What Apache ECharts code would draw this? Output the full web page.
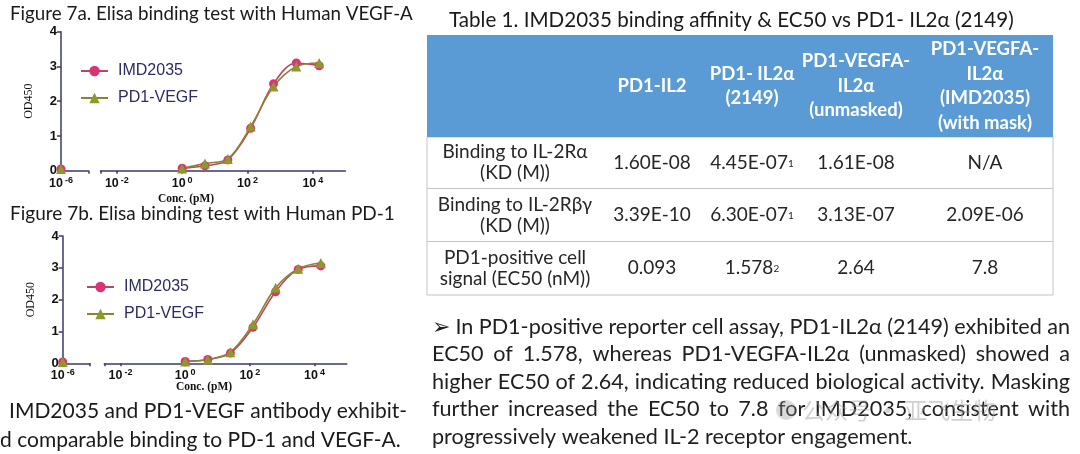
<!DOCTYPE html>
<html>
<head>
<meta charset="utf-8">
<script src="https://cdn.jsdelivr.net/npm/echarts@6/dist/echarts.min.js"></script>
<style>
  html, body { margin: 0; padding: 0; background: #fff; }
  #main { width: 1080px; height: 454px; }
</style>
</head>
<body>
<div id="main"></div>
<script>
// ELISA dilution series (pM), 5-fold steps
const concPM = [1, 5, 25, 125, 625, 3125, 15625];
// zero-concentration wells are plotted at 10^-6 on the broken axis
const zeroConcLog = -6;

// Figure 7a - VEGF-A
const vegfIMD2035 = [0.07, 0.14, 0.31, 1.22, 2.50, 3.10, 3.02];
const vegfPD1VEGF = [0.06, 0.21, 0.34, 1.27, 2.42, 3.00, 3.10];
const vegfBlank = [0.05, 0.05];

// Figure 7b - PD-1
const pd1IMD2035 = [0.06, 0.12, 0.32, 1.13, 2.25, 2.95, 3.06];
const pd1PD1VEGF = [0.06, 0.12, 0.35, 1.23, 2.37, 2.97, 3.15];
const pd1Blank = [0.04, 0.04];

const xLabelExps = [-2, 0, 2, 4];

// Table 1
const colHeads = ['PD1-IL2', 'PD1- IL2\u03b1\n(2149)', 'PD1-VEGFA-\nIL2\u03b1\n(unmasked)', 'PD1-VEGFA-\nIL2\u03b1\n(IMD2035)\n(with mask)'];
const rowHeads = ['Binding to IL-2R\u03b1\n(KD (M))', 'Binding to IL-2R\u03b2\u03b3\n(KD (M))', 'PD1-positive cell\nsignal (EC50 (nM))'];
const rowKdAlpha = ['1.60E-08', '4.45E-07', '1.61E-08', 'N/A'];
const rowKdBetaGamma = ['3.39E-10', '6.30E-07', '3.13E-07', '2.09E-06'];
const rowEC50 = ['0.093', '1.578', '2.64', '7.8'];
const rowNotes = [['', '1', '', ''], ['', '1', '', ''], ['', '2', '', '']];

const paragraph = [
  '\u27a2 In PD1-positive reporter cell assay, PD1-IL2\u03b1 (2149) exhibited an',
  'EC50 of 1.578, whereas PD1-VEGFA-IL2\u03b1 (unmasked) showed a',
  'higher EC50 of 2.64, indicating reduced biological activity. Masking',
  'further increased the EC50 to 7.8 for IMD2035, consistent with',
  'progressively weakened IL-2 receptor engagement.'
];

const PINK = '#dc3374', PINK_LINE = '#b44a5e';
const OLIVE = '#8c9a2c', OLIVE_LINE = '#8d8136';
const AXIS = '#3a3a6e';
const FONT = 'Lato, "Open Sans", sans-serif';
const ARIAL = 'Arial, "Liberation Sans", sans-serif';

const chart = echarts.init(document.getElementById('main'));

let pairs = (vals) => concPM.map((c, i) => [Math.log10(c), vals[i]]);

let expLabel = {
  color: '#111',
  fontFamily: ARIAL,
  fontWeight: 'bold',
  margin: 5,
  formatter: (v) => '{b|10}{s|' + v + '}',
  rich: {
    b: { fontSize: 12.5, fontWeight: 'bold', fontFamily: ARIAL, color: '#111', lineHeight: 15 },
    s: { fontSize: 9, fontWeight: 'bold', fontFamily: ARIAL, color: '#111', verticalAlign: 'top', lineHeight: 9, padding: [0, 0, 0, 2] }
  }
};

let axisLine = { lineStyle: { color: AXIS, width: 1.5 } };

function panelAxes(gi0, gi1) {
  return {
    x: [
      {
        gridIndex: gi0, type: 'value', min: -6, max: -5.16,
        axisLine: axisLine,
        axisTick: { customValues: [-6, -5.16], length: 3, lineStyle: { color: AXIS, width: 1.5 } },
        axisLabel: Object.assign({}, expLabel, { customValues: [-6] }),
        splitLine: { show: false }
      },
      {
        gridIndex: gi1, type: 'value', min: -2.5, max: 5,
        axisLine: axisLine,
        axisTick: { customValues: [-2.5, -2, 0, 2, 4], length: 3, lineStyle: { color: AXIS, width: 1.5 } },
        axisLabel: Object.assign({}, expLabel, { customValues: xLabelExps }),
        splitLine: { show: false }
      }
    ],
    y: [
      {
        gridIndex: gi0, type: 'value', min: 0, max: 4, interval: 1,
        name: 'OD450', nameLocation: 'middle', nameGap: 26,
        nameTextStyle: { fontFamily: '"Liberation Serif", serif', fontSize: 12, color: '#111' },
        axisLine: { show: true, lineStyle: { color: AXIS, width: 1.5 } },
        axisTick: { show: true, length: 4, lineStyle: { color: AXIS, width: 1.5 } },
        axisLabel: { color: '#111', fontSize: 13, fontWeight: 'bold', fontFamily: ARIAL, margin: 4 },
        splitLine: { show: false }
      },
      { gridIndex: gi1, type: 'value', min: 0, max: 4, interval: 1, show: false, splitLine: { show: false } }
    ]
  };
}

let a = panelAxes(0, 1);
let b = panelAxes(2, 3);

function curveSeries(name, xi, yi, vals, blank, sym, col, lineCol) {
  let size = sym === 'circle' ? 9 : 10;
  return [
    {
      name: name, type: 'line', xAxisIndex: xi + 1, yAxisIndex: yi + 1,
      data: pairs(vals), smooth: 0.35, symbol: sym, symbolSize: size,
      itemStyle: { color: col }, lineStyle: { color: lineCol, width: 1.6 }
    },
    {
      name: name, type: 'line', xAxisIndex: xi, yAxisIndex: yi,
      data: [[zeroConcLog, blank]], symbol: sym, symbolSize: size,
      itemStyle: { color: col }, lineStyle: { color: lineCol, width: 1.6 }
    }
  ];
}

let legendBase = {
  orient: 'vertical', itemWidth: 27, itemHeight: 13, itemGap: 11,
  textStyle: { fontFamily: ARIAL, fontSize: 16, color: '#2b2b66', padding: [0, 0, 0, 5] },
  data: ['IMD2035', 'PD1-VEGF']
};

// table geometry
const tX = 427, tW = 626, tTop = 35, headBottom = 137;
const rowLines = [137, 188.5, 241.5, 295];
const colX = [652, 752, 856, 985];
const firstColX = 515;

let graphics = [];
let txt = (x, y, text, font, fill, align, extra) => {
  graphics.push({
    type: 'text', x: x, y: y, silent: true,
    style: Object.assign({ text: text, font: font, fill: fill, align: align || 'left', verticalAlign: 'middle' }, extra || {})
  });
};

// left side titles and captions
txt(10, 14, 'Figure 7a. Elisa binding test with Human VEGF-A', '18.8px ' + FONT, '#1a1a1a');
txt(10, 214, 'Figure 7b. Elisa binding test with Human PD-1', '19px ' + FONT, '#1a1a1a');
txt(186, 199, 'Conc. (pM)', 'bold 11.5px "Liberation Serif", serif', '#111', 'center');
txt(204, 387, 'Conc. (pM)', 'bold 11.5px "Liberation Serif", serif', '#111', 'center');
txt(9, 411, 'IMD2035 and PD1-VEGF antibody exhibit-', '21px ' + FONT, '#1a1a1a');
txt(0, 440, 'd comparable binding to PD-1 and VEGF-A.', '21px ' + FONT, '#1a1a1a');

// table title
txt(449, 20, 'Table 1. IMD2035 binding affinity & EC50 vs PD1- IL2\u03b1 (2149)', '20.6px ' + FONT, '#1a1a1a');

// table body and header
graphics.push({ type: 'rect', silent: true, shape: { x: tX, y: headBottom, width: tW, height: rowLines[3] - headBottom }, style: { fill: '#fff', stroke: '#c4c4c4', lineWidth: 1 } });
graphics.push({ type: 'rect', silent: true, shape: { x: tX, y: tTop, width: tW, height: headBottom - tTop }, style: { fill: '#5b9bd5' } });
rowLines.slice(1, 3).forEach((ly) => {
  graphics.push({ type: 'line', silent: true, shape: { x1: tX, y1: ly, x2: tX + tW, y2: ly }, style: { stroke: '#c4c4c4', lineWidth: 1 } });
});
colHeads.forEach((h, i) => {
  txt(colX[i], (tTop + headBottom) / 2, h, 'bold 18.5px ' + FONT, '#fff', 'center', { lineHeight: 24.5 });
});
[rowKdAlpha, rowKdBetaGamma, rowEC50].forEach((row, r) => {
  let cy = (rowLines[r] + rowLines[r + 1]) / 2;
  txt(firstColX, cy, rowHeads[r], '19px ' + FONT, '#262626', 'center', { lineHeight: 21 });
  row.forEach((v, c) => {
    let note = rowNotes[r][c];
    graphics.push({
      type: 'text', x: colX[c], y: cy, silent: true,
      style: {
        text: '{v|' + v + '}' + (note ? '{n|' + note + '}' : ''),
        align: 'center', verticalAlign: 'middle',
        rich: {
          v: { font: '19px ' + FONT, fill: '#262626', lineHeight: 20 },
          n: { font: '10px ' + FONT, fill: '#262626', lineHeight: 20, padding: [2, 0, 0, 0] }
        }
      }
    });
  });
});

// paragraph under the table, justified like the slide (last line left as is)
const paraFont = '21.6px Lato';
const paraLeft = 432, paraRight = 1070;
let measure = document.createElement('canvas').getContext('2d');
measure.font = paraFont;
paragraph.forEach((line, i) => {
  let y = 327 + i * 27.5;
  if (i === paragraph.length - 1) {
    txt(paraLeft, y, line, paraFont, '#1f1f1f');
    return;
  }
  let words = line.split(' ');
  let widths = words.map((w) => measure.measureText(w).width);
  let total = widths.reduce((s, w) => s + w, 0);
  let gap = (paraRight - paraLeft - total) / (words.length - 1);
  let x = paraLeft;
  words.forEach((w, k) => {
    txt(x, y, w, paraFont, '#1f1f1f');
    x += widths[k] + gap;
  });
});

// watermark
graphics.push({ type: 'circle', silent: true, shape: { cx: 786, cy: 410, r: 10 }, style: { fill: 'rgba(150,150,150,0.35)' } });
txt(802, 410, '\u516c\u4f17\u53f7 \u00b7 \u4e9a\u98de\u751f\u7269', '23px "Noto Sans CJK SC"', 'rgba(150,150,150,0.45)');

chart.setOption({
  animation: false,
  backgroundColor: '#fff',
  grid: [
    { left: 61, top: 31.7, width: 27.5, height: 139 },
    { left: 100.5, top: 31.7, width: 245, height: 139 },
    { left: 62.7, top: 236, width: 27.3, height: 127.3 },
    { left: 104.3, top: 236, width: 242.6, height: 127.3 }
  ],
  xAxis: a.x.concat(b.x),
  yAxis: a.y.concat(b.y),
  legend: [
    Object.assign({}, legendBase, { left: 75, top: 58 }),
    Object.assign({}, legendBase, { left: 81, top: 274 })
  ],
  series: [].concat(
    curveSeries('IMD2035', 0, 0, vegfIMD2035, vegfBlank[0], 'circle', PINK, PINK_LINE),
    curveSeries('PD1-VEGF', 0, 0, vegfPD1VEGF, vegfBlank[1], 'triangle', OLIVE, OLIVE_LINE),
    curveSeries('IMD2035', 2, 2, pd1IMD2035, pd1Blank[0], 'circle', PINK, PINK_LINE),
    curveSeries('PD1-VEGF', 2, 2, pd1PD1VEGF, pd1Blank[1], 'triangle', OLIVE, OLIVE_LINE)
  ),
  graphic: graphics
});
</script>
</body>
</html>
